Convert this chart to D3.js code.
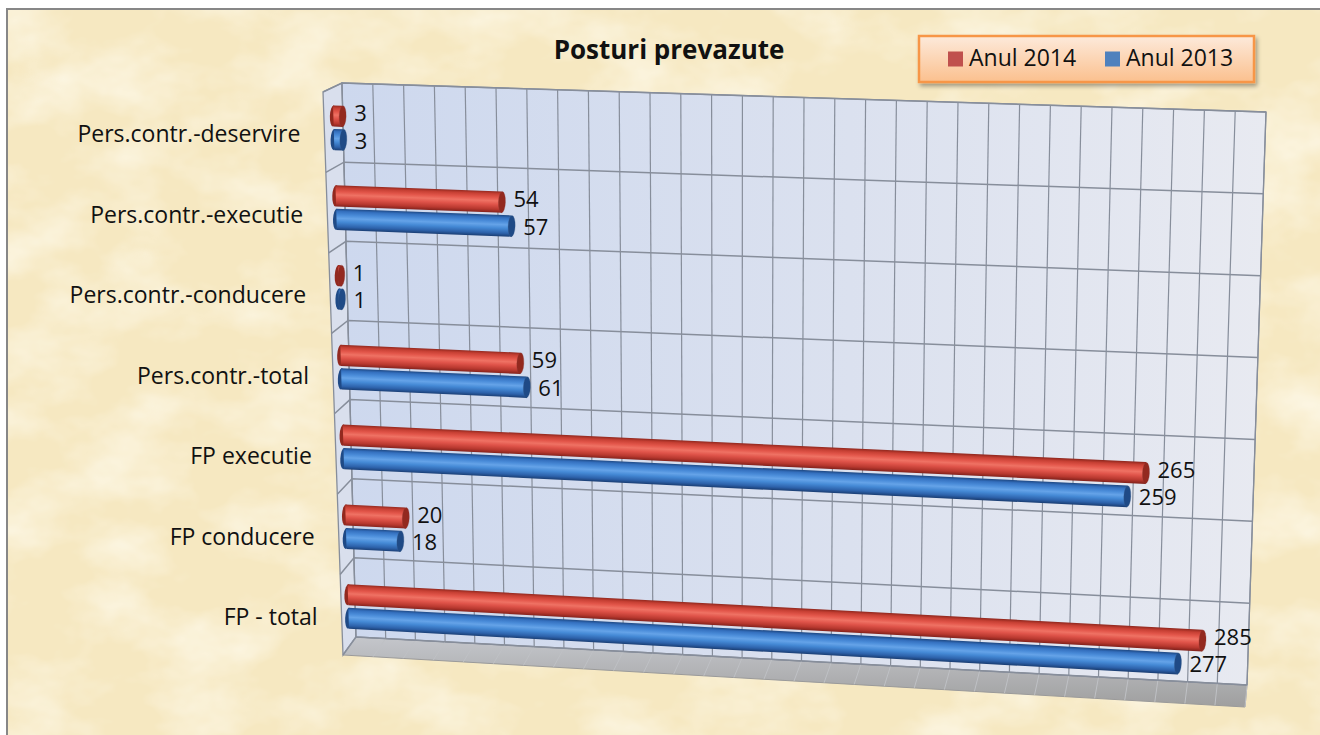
<!DOCTYPE html>
<html>
<head>
<meta charset="utf-8">
<script src="https://cdn.jsdelivr.net/npm/d3@7"></script>
<style>
  html, body { margin: 0; padding: 0; background: #ffffff; }
  svg { display: block; }
</style>
</head>
<body>
<div id="chart"></div>
<script>
// Data
const categories = [
  "Pers.contr.-deservire",
  "Pers.contr.-executie",
  "Pers.contr.-conducere",
  "Pers.contr.-total",
  "FP executie",
  "FP conducere",
  "FP - total",
];
const series = ["Anul 2014", "Anul 2013"];
const values2014 = [3, 54, 1, 59, 265, 20, 285];
const values2013 = [3, 57, 1, 61, 259, 18, 277];
const valueDomain = [0, 300];

const width = 1320, height = 735;

const svg = d3.select("#chart").append("svg")
  .attr("width", width)
  .attr("height", height)
  .attr("viewBox", `0 0 ${width} ${height}`);

const defs = svg.append("defs");

// parchment texture
const paper = defs.append("filter").attr("id", "paper")
  .attr("x", 0).attr("y", 0).attr("width", "100%").attr("height", "100%");
paper.append("feTurbulence")
  .attr("type", "fractalNoise")
  .attr("baseFrequency", "0.012 0.018")
  .attr("numOctaves", 4)
  .attr("seed", 11)
  .attr("result", "noise");
paper.append("feColorMatrix")
  .attr("in", "noise")
  .attr("type", "matrix")
  .attr("values", "0 0 0 0 1  0 0 0 0 0.98  0 0 0 0 0.9  1.3 0 0 0 -0.52");

const shadow = defs.append("filter").attr("id", "legendShadow")
  .attr("x", "-10%").attr("y", "-20%").attr("width", "130%").attr("height", "160%");
shadow.append("feDropShadow")
  .attr("dx", 2).attr("dy", 3).attr("stdDeviation", 2)
  .attr("flood-color", "#000").attr("flood-opacity", 0.35);

// background frame
svg.append("rect").attr("x", 7).attr("y", 9)
  .attr("width", width).attr("height", height)
  .attr("fill", "#f6e8c1");
svg.append("rect").attr("x", 7).attr("y", 9)
  .attr("width", width).attr("height", height)
  .attr("filter", "url(#paper)");
svg.append("rect").attr("x", 7).attr("y", 9)
  .attr("width", width).attr("height", height)
  .attr("fill", "none").attr("stroke", "#878787").attr("stroke-width", 2);

// 3D box: back wall and front plane corners (screen space)
const back = { tl: [342, 83], tr: [1266, 112], br: [1247, 685], bl: [356, 637] };
const front = { tl: [323, 92], tr: [1258, 125], br: [1245, 707], bl: [343, 655] };

const lerp = (a, b, t) => [a[0] + (b[0] - a[0]) * t, a[1] + (b[1] - a[1]) * t];
const quadPt = (q, u, v) => lerp(lerp(q.tl, q.tr, u), lerp(q.bl, q.br, u), v);
// u: value fraction, v: category fraction (top→bottom), z: depth (0 back, 1 front)
const proj = (u, v, z) => lerp(quadPt(back, u, v), quadPt(front, u, v), z);

// scales
const x = d3.scaleLinear().domain(valueDomain).range([0, 1]);
const y = d3.scaleBand().domain(categories).range([0, 1]);
const ySub = d3.scaleBand().domain(series)
  .range([0.225 * y.bandwidth(), 0.785 * y.bandwidth()])
  .paddingInner(0.1);
const color = d3.scaleOrdinal().domain(series).range(["#c0504d", "#4f81bd"]);

const line = d3.line();
const poly = (pts) => line(pts) + "Z";

// gradients for walls
const wallGrad = defs.append("linearGradient").attr("id", "wallGrad")
  .attr("x1", "0%").attr("y1", "0%").attr("x2", "100%").attr("y2", "0%");
wallGrad.append("stop").attr("offset", "0%").attr("stop-color", "#cdd8ee");
wallGrad.append("stop").attr("offset", "55%").attr("stop-color", "#dbe1ef");
wallGrad.append("stop").attr("offset", "100%").attr("stop-color", "#e8eaf1");

const floorGrad = defs.append("linearGradient").attr("id", "floorGrad")
  .attr("x1", "0%").attr("y1", "0%").attr("x2", "0%").attr("y2", "100%");
floorGrad.append("stop").attr("offset", "0%").attr("stop-color", "#c4c6cb");
floorGrad.append("stop").attr("offset", "100%").attr("stop-color", "#9f9f9f");

const plot = svg.append("g").attr("class", "plot");
const gridColor = "#878e9b";

// side wall
plot.append("path")
  .attr("d", poly([proj(0, 0, 0), proj(0, 1, 0), proj(0, 1, 1), proj(0, 0, 1)]))
  .attr("fill", "#d9dfed")
  .attr("stroke", gridColor).attr("stroke-width", 1.3);

// floor
plot.append("path")
  .attr("d", poly([proj(0, 1, 0), proj(1, 1, 0), proj(1, 1, 1), proj(0, 1, 1)]))
  .attr("fill", "url(#floorGrad)")
  .attr("stroke", "#9a9a9a").attr("stroke-width", 1);

// back wall
plot.append("path")
  .attr("d", poly([proj(0, 0, 0), proj(1, 0, 0), proj(1, 1, 0), proj(0, 1, 0)]))
  .attr("fill", "url(#wallGrad)")
  .attr("stroke", gridColor).attr("stroke-width", 1.3);

const ticks = x.ticks(30);

// vertical gridlines on the back wall, faint lines on the floor
plot.append("g").selectAll("line.v").data(ticks).join("line")
  .attr("class", "v")
  .attr("x1", (d) => proj(x(d), 0, 0)[0]).attr("y1", (d) => proj(x(d), 0, 0)[1])
  .attr("x2", (d) => proj(x(d), 1, 0)[0]).attr("y2", (d) => proj(x(d), 1, 0)[1])
  .attr("stroke", gridColor).attr("stroke-width", 1.2);

plot.append("g").selectAll("line.f").data(ticks).join("line")
  .attr("class", "f")
  .attr("x1", (d) => proj(x(d), 1, 0)[0]).attr("y1", (d) => proj(x(d), 1, 0)[1])
  .attr("x2", (d) => proj(x(d), 1, 1)[0]).attr("y2", (d) => proj(x(d), 1, 1)[1])
  .attr("stroke", "#bfc1c5").attr("stroke-width", 1);

// horizontal gridlines at category boundaries (back wall + side wall)
const bounds = categories.map((c) => y(c)).concat([1]);
plot.append("g").selectAll("path.h").data(bounds).join("path")
  .attr("class", "h")
  .attr("d", (v) => line([proj(0, v, 1), proj(0, v, 0), proj(1, v, 0)]))
  .attr("fill", "none")
  .attr("stroke", gridColor).attr("stroke-width", 1.5);

// bar gradients & bars
const barShades = {
  "Anul 2014": ["#93291f", "#c63f33", "#e3564a", "#ef7264", "#e0544a", "#b8382f", "#85231d"],
  "Anul 2013": ["#1f4a86", "#3470bf", "#4a8cd9", "#65a3e8", "#458ad6", "#2d62ab", "#1b3f75"],
};
const stopOffsets = [0, 0.12, 0.3, 0.45, 0.62, 0.85, 1];

const bars = [];
categories.forEach((cat, i) => {
  [values2014[i], values2013[i]].forEach((val, j) => {
    bars.push({ cat, s: series[j], val, id: `g${i}_${j}` });
  });
});

const depth = 0.5;
bars.forEach((b) => {
  const v0 = y(b.cat) + ySub(b.s);
  const v1 = v0 + ySub.bandwidth();
  const vc = (v0 + v1) / 2;
  const u = x(b.val);
  b.start = proj(0, vc, depth);
  b.end = proj(u, vc, depth);
  b.pts = [proj(0, v0, depth), proj(u, v0, depth), proj(u, v1, depth), proj(0, v1, depth)];
  const t0 = proj(0, v0, depth), t1 = proj(0, v1, depth);
  b.thick = Math.hypot(t1[0] - t0[0], t1[1] - t0[1]);
  const ang = Math.atan2(b.end[1] - b.start[1], b.end[0] - b.start[0]);
  b.angle = (ang * 180) / Math.PI;
  const n = [-Math.sin(ang), Math.cos(ang)];
  const g = defs.append("linearGradient").attr("id", b.id)
    .attr("gradientUnits", "userSpaceOnUse")
    .attr("x1", b.start[0] - (n[0] * b.thick) / 2)
    .attr("y1", b.start[1] - (n[1] * b.thick) / 2)
    .attr("x2", b.start[0] + (n[0] * b.thick) / 2)
    .attr("y2", b.start[1] + (n[1] * b.thick) / 2);
  barShades[b.s].forEach((c, k) => {
    g.append("stop").attr("offset", stopOffsets[k]).attr("stop-color", c);
  });
});

const capRx = 3.5;
const barG = plot.append("g").selectAll("g.bar").data(bars).join("g").attr("class", "bar");

barG.append("ellipse")
  .attr("transform", (d) => `translate(${d.start[0]},${d.start[1]}) rotate(${d.angle})`)
  .attr("rx", capRx).attr("ry", (d) => d.thick / 2)
  .attr("fill", (d) => `url(#${d.id})`);

barG.append("path")
  .attr("d", (d) => poly(d.pts))
  .attr("fill", (d) => `url(#${d.id})`);

barG.append("ellipse")
  .attr("transform", (d) => `translate(${d.end[0]},${d.end[1]}) rotate(${d.angle})`)
  .attr("rx", capRx).attr("ry", (d) => d.thick / 2)
  .attr("fill", (d) => `url(#${d.id})`)
  .attr("stroke", (d) => d3.color(color(d.s)).darker(1))
  .attr("stroke-opacity", 0.35)
  .attr("stroke-width", 0.8);

// data labels (2014 nudged up, 2013 nudged down a little)
plot.append("g").selectAll("text").data(bars).join("text")
  .attr("x", (d) => d.end[0] + capRx + 8)
  .attr("y", (d) => d.end[1] + (d.s === series[0] ? -1 : 3))
  .attr("dominant-baseline", "middle")
  .attr("font-family", "'Open Sans', sans-serif")
  .attr("font-size", 22)
  .attr("fill", "#111")
  .text((d) => d.val);

// category labels
plot.append("g").selectAll("text").data(categories).join("text")
  .attr("x", (d) => proj(0, y(d) + y.bandwidth() / 2, 1)[0] - 24)
  .attr("y", (d) => proj(0, y(d) + y.bandwidth() / 2, 1)[1] + 4)
  .attr("text-anchor", "end")
  .attr("dominant-baseline", "middle")
  .attr("font-family", "'Open Sans', sans-serif")
  .attr("font-size", 23)
  .attr("fill", "#111")
  .text((d) => d);

// title
svg.append("text")
  .attr("x", 669).attr("y", 52)
  .attr("text-anchor", "middle")
  .attr("dominant-baseline", "middle")
  .attr("font-family", "'Open Sans', sans-serif")
  .attr("font-weight", "bold")
  .attr("font-size", 26)
  .attr("fill", "#111")
  .text("Posturi prevazute");

// legend
const legGrad = defs.append("linearGradient").attr("id", "legGrad")
  .attr("x1", "0%").attr("y1", "0%").attr("x2", "0%").attr("y2", "100%");
legGrad.append("stop").attr("offset", "0%").attr("stop-color", "#fdeadb");
legGrad.append("stop").attr("offset", "100%").attr("stop-color", "#fbc08e");

const legend = svg.append("g").attr("transform", "translate(919,36)");
legend.append("rect")
  .attr("width", 335).attr("height", 46)
  .attr("fill", "url(#legGrad)")
  .attr("stroke", "#f79646").attr("stroke-width", 2.5)
  .attr("filter", "url(#legendShadow)");

const legendX = d3.scalePoint().domain(series).range([29, 186]);
const item = legend.selectAll("g.item").data(series).join("g")
  .attr("class", "item")
  .attr("transform", (d) => `translate(${legendX(d)},23)`);
item.append("rect")
  .attr("x", 0).attr("y", -7.5).attr("width", 15).attr("height", 15)
  .attr("fill", (d) => color(d));
item.append("text")
  .attr("x", 21).attr("y", 1)
  .attr("dominant-baseline", "middle")
  .attr("font-family", "'Open Sans', sans-serif")
  .attr("font-size", 23)
  .attr("fill", "#111")
  .text((d) => d);
</script>
</body>
</html>
